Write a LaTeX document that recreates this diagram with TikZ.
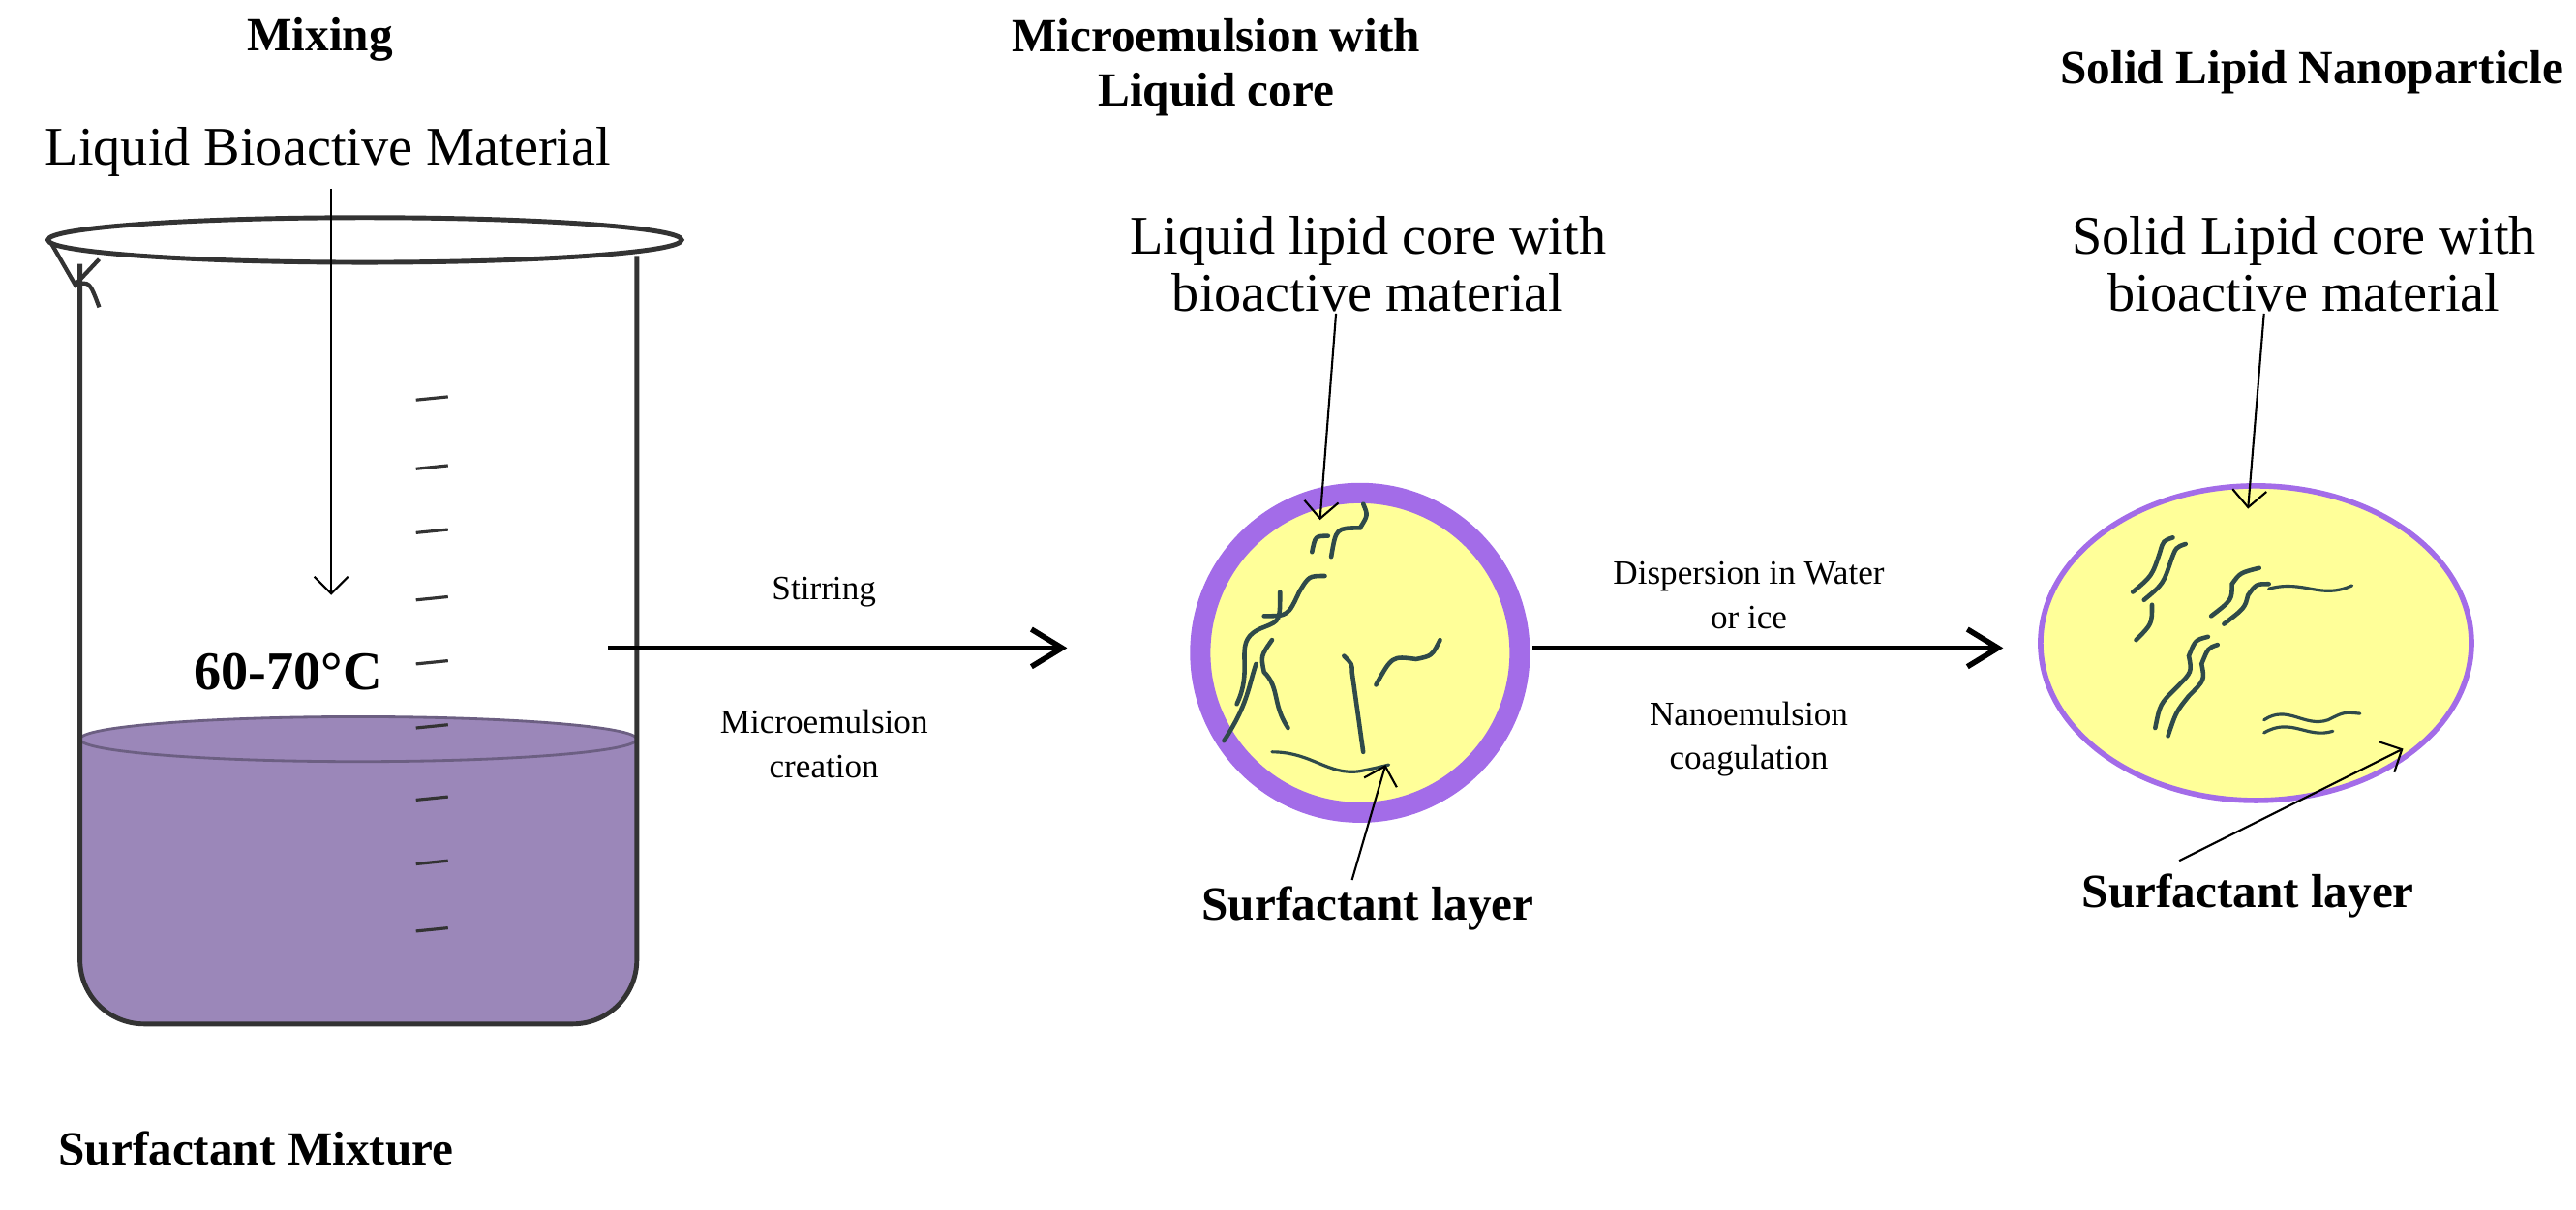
\documentclass[tikz,border=0pt]{standalone}
\usepackage{fontspec}
\setmainfont{Liberation Serif}
\usetikzlibrary{arrows.meta,shapes.geometric}
\definecolor{liq}{HTML}{9B87B9}
\definecolor{core}{HTML}{FFFF99}
\definecolor{shell}{HTML}{A36CE8}
\definecolor{worm}{HTML}{2F4A4A}
\begin{document}
\begin{tikzpicture}[x=0.01653cm,y=-0.01653cm,
    title/.style={font=\fontsize{14}{16}\selectfont\bfseries, align=center},
    lbl/.style={font=\fontsize{16}{17}\selectfont, align=center},
    small/.style={font=\fontsize{10}{13}\selectfont, align=center},
    pointer/.style={-{Straight Barb[length=5pt]}, line width=0.6pt},
    stepArrow/.style={-{Straight Barb[length=9pt,width=11pt]}, line width=1.6pt},
    worms/.style={worm, line width=1.3pt, line cap=round}]
  \useasboundingbox (0,0) rectangle (1610,756);

  % titles
  \node[title] (t1) at (200,25) {Mixing};
  \node[title] (t2) at (760,42) {Microemulsion with\\Liquid core};
  \node[title] (t3) at (1445,45) {Solid Lipid Nanoparticle};

  % beaker
  \fill[liq] (50,462) -- (50,600) arc (180:90:40) -- (358,640) arc (90:0:40) -- (398,462) -- cycle;
  \fill[liq] (224,462) ellipse (174 and 14);
  \draw[liq!70!black, line width=0.8pt] (224,462) ellipse (174 and 14);
  \draw[gray!40!black, line width=1.4pt] (50,165) -- (50,600) arc (180:90:40) -- (358,640) arc (90:0:40) -- (398,160);
  \draw[gray!40!black, line width=1.4pt] (228,150) ellipse (198 and 14);
  \draw[gray!40!black, line width=1.2pt] (32,152) -- (47,178) -- (62,162) (47,178) .. controls (56,176) .. (62,192);
  \foreach \y in {250,293,333,375,415,455,500,540,582}
    \draw[gray!40!black, line width=0.9pt] (260,\y) -- (280,\y-2);
  \node[lbl] (bio) at (205,95) {Liquid Bioactive Material};
  \coordinate (bioend) at (207,372);
  \draw[pointer] (bio.south -| bioend) -- (bioend);
  \node[title, font=\fontsize{16}{18}\selectfont\bfseries] (temp) at (180,420) {60-70°C};
  \node[title] (mix) at (160,718) {Surfactant Mixture};

  % microemulsion droplet
  \node[circle, draw=shell, fill=core, line width=6pt, minimum size=3.3cm, inner sep=0] (c1) at (850,408) {};
  \begin{scope}[worms]
    \draw (773,440) .. controls (785,415) and (768,400) .. (790,392) .. controls (800,388) .. (800,370);
    \draw (790,385) .. controls (805,385) .. (812,370) .. controls (818,360) .. (828,360);
    \draw (832,348) .. controls (835,330) .. (850,330) .. controls (855,322) .. (852,315);
    \draw (820,345) .. controls (822,335) .. (830,335);
    \draw (765,463) .. controls (780,440) and (780,430) .. (785,415);
    \draw (805,455) .. controls (795,440) and (800,430) .. (790,420) .. controls (788,410) .. (795,400);
    \draw (852,470) .. controls (848,445) .. (845,420) .. controls (845,415) .. (840,410);
    \draw (860,428) .. controls (870,410) .. (885,412) .. controls (895,410) .. (900,400);
    \draw[line width=0.9pt] (795,470) .. controls (820,470) and (830,485) .. (850,482) .. controls (860,480) .. (868,478);
  \end{scope}
  \node[lbl] (liqcore) at (855,165) {Liquid lipid core with\\bioactive material};
  \coordinate (p1) at (825,325);
  \draw[pointer] (835,196) -- (p1);
  \node[title] (sl1) at (855,568) {Surfactant layer};
  \coordinate (q1) at (866,478);
  \draw[pointer] (845,550) -- (q1);

  % step arrows
  \coordinate (a1s) at (380,405); \coordinate (a1e) at (667,405);
  \draw[stepArrow] (a1s) -- (a1e);
  \node[small] (stir) at (515,370) {Stirring};
  \node[small] (mc) at (515,465) {Microemulsion\\creation};
  \coordinate (a2s) at (958,405); \coordinate (a2e) at (1252,405);
  \draw[stepArrow] (a2s) -- (a2e);
  \node[small] (disp) at (1093,372) {Dispersion in Water\\or ice};
  \node[small] (nc) at (1093,462) {Nanoemulsion\\coagulation};

  % solid lipid nanoparticle
  \node[ellipse, draw=shell, fill=core, line width=1.6pt, minimum width=4.45cm, minimum height=3.25cm, inner sep=0] (c2) at (1410,402) {};
  \begin{scope}[worms]
    \draw (1333,370) .. controls (1345,360) .. (1350,345) .. controls (1352,338) .. (1358,336);
    \draw (1340,375) .. controls (1352,365) .. (1357,350) .. controls (1360,342) .. (1366,340);
    \draw (1335,400) .. controls (1345,390) .. (1345,378);
    \draw (1382,385) .. controls (1395,375) .. (1395,365) .. controls (1400,358) .. (1412,355);
    \draw (1390,390) .. controls (1403,380) .. (1405,372) .. controls (1410,365) .. (1418,365);
    \draw (1347,455) .. controls (1350,440) .. (1360,430) .. controls (1370,420) .. (1368,410) .. controls (1372,400) .. (1380,398);
    \draw (1355,460) .. controls (1360,445) .. (1368,435) .. controls (1378,425) .. (1376,415) .. controls (1380,405) .. (1386,403);
    \draw[line width=0.9pt] (1418,368) .. controls (1440,362) and (1450,375) .. (1470,366);
    \draw[line width=0.9pt] (1415,450) .. controls (1430,440) and (1440,455) .. (1455,450) .. controls (1465,445) .. (1475,446);
    \draw[line width=0.9pt] (1415,458) .. controls (1432,448) and (1442,462) .. (1458,457);
  \end{scope}
  \node[lbl] (solcore) at (1440,165) {Solid Lipid core with\\bioactive material};
  \coordinate (p2) at (1405,318);
  \draw[pointer] (1415,196) -- (p2);
  \node[title] (sl2) at (1405,560) {Surfactant layer};
  \coordinate (q2) at (1502,468);
  \draw[pointer] (1362,538) -- (q2);
\end{tikzpicture}
\end{document}
